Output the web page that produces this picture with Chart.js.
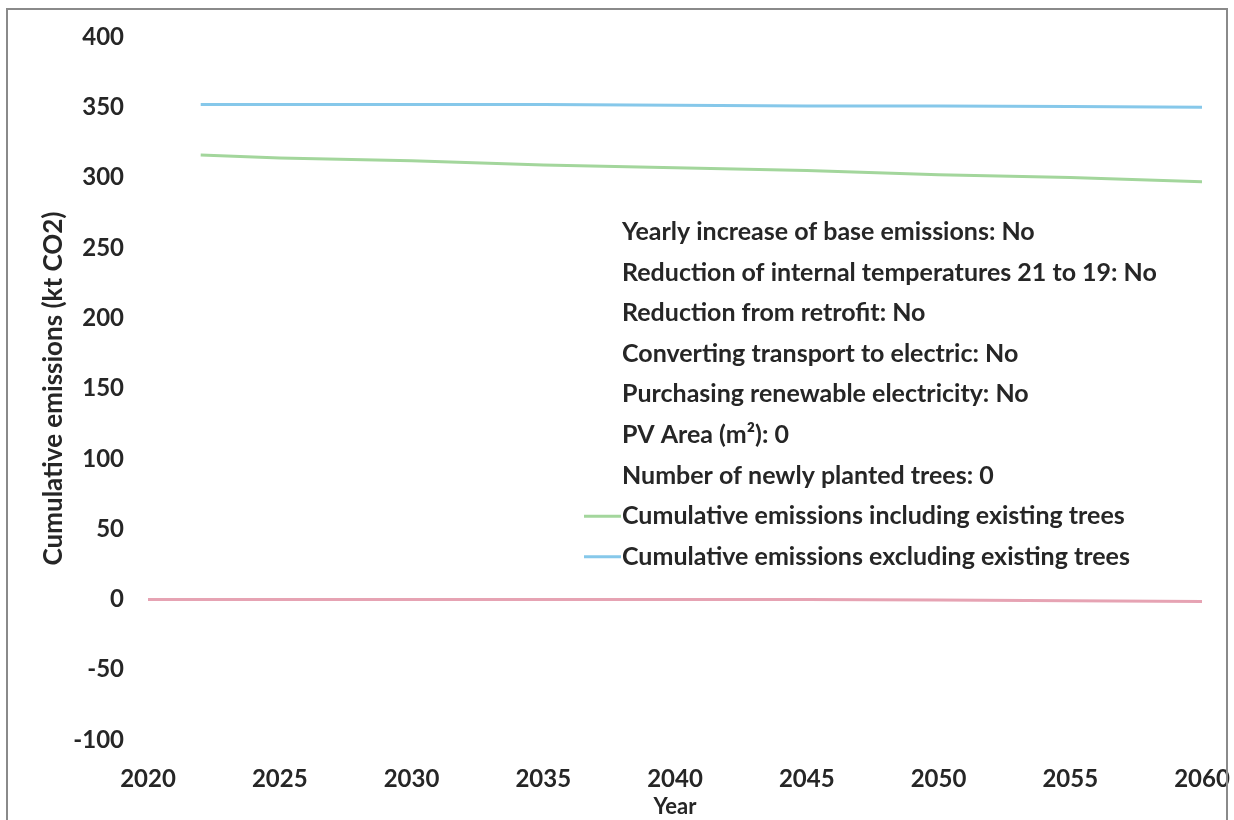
<!DOCTYPE html>
<html>
<head>
<meta charset="utf-8">
<script src="https://cdn.jsdelivr.net/npm/chart.js@4.4.0/dist/chart.umd.min.js"></script>
<style>
  body { margin: 0; background: #fff; overflow: hidden; }
  #wrap { position: relative; width: 1234px; height: 820px; }
  #frame { position: absolute; left: 6px; top: 8px; width: 1222px; height: 830px; border: 2px solid #8a8a8a; box-sizing: border-box; pointer-events: none; }
</style>
</head>
<body>
<div id="wrap">
  <canvas id="myChart" width="1234" height="820"></canvas>
  <div id="frame"></div>
</div>
<script>
  // values (kt CO2)
  const years = [2020, 2022, 2025, 2030, 2035, 2040, 2045, 2050, 2055, 2060];
  const includingTrees = [null, 316, 314, 312, 309, 307, 305, 302, 300, 297];
  const excludingTrees = [null, 352, 352, 352, 352, 351.5, 351, 351, 350.5, 350];
  const newTrees = [0, 0, 0, 0, 0, 0, 0, -0.5, -1, -1.5];

  const scenarioLabels = [
    'Yearly increase of base emissions: No',
    'Reduction of internal temperatures 21 to 19: No',
    'Reduction from retrofit: No',
    'Converting transport to electric: No',
    'Purchasing renewable electricity: No',
    'PV Area (m\u00B2): 0',
    'Number of newly planted trees: 0'
  ];
  const seriesLabels = [
    'Cumulative emissions including existing trees',
    'Cumulative emissions excluding existing trees'
  ];
  const yTicks = [-100, -50, 0, 50, 100, 150, 200, 250, 300, 350, 400];

  const toPoints = vals => years.map((x, i) => ({ x: x, y: vals[i] }));
  const FONT = 'Lato, "Liberation Sans", sans-serif';

  // text-only legend inside the plot, like the Excel one
  const insideLegend = {
    id: 'insideLegend',
    afterDraw(chart) {
      const ctx = chart.ctx;
      ctx.save();
      ctx.font = 'bold 25px ' + FONT;
      ctx.fillStyle = '#262626';
      ctx.textBaseline = 'middle';
      const x0 = 622, y0 = 232, step = 40.6;
      const all = scenarioLabels.concat(seriesLabels);
      all.forEach((t, i) => ctx.fillText(t, x0, y0 + i * step));
      const colors = [chart.data.datasets[0].borderColor, chart.data.datasets[1].borderColor];
      colors.forEach((c, j) => {
        const y = y0 + (scenarioLabels.length + j) * step;
        ctx.strokeStyle = c;
        ctx.lineWidth = 3;
        ctx.beginPath();
        ctx.moveTo(584, y);
        ctx.lineTo(621, y);
        ctx.stroke();
      });
      ctx.restore();
    }
  };

  new Chart(document.getElementById('myChart'), {
    type: 'line',
    data: {
      datasets: [
        { label: seriesLabels[0], data: toPoints(includingTrees), borderColor: '#a3d69c', borderWidth: 3, pointRadius: 0, tension: 0 },
        { label: seriesLabels[1], data: toPoints(excludingTrees), borderColor: '#86c8ea', borderWidth: 3, pointRadius: 0, tension: 0 },
        { label: 'Newly planted trees', data: toPoints(newTrees), borderColor: '#e6a3b3', borderWidth: 3, pointRadius: 0, tension: 0 }
      ]
    },
    options: {
      responsive: false,
      animation: false,
      layout: { padding: { top: 37, right: 32, left: 0, bottom: 0 } },
      plugins: { legend: { display: false }, tooltip: { enabled: false } },
      scales: {
        x: {
          type: 'linear', min: 2020, max: 2060,
          grid: { display: false, drawTicks: false },
          border: { display: false },
          ticks: { stepSize: 5, padding: 25, color: '#262626', font: { family: FONT, size: 24, weight: 'bold' }, callback: v => String(v) },
          title: { display: true, text: 'Year', color: '#262626', padding: { top: 0, bottom: 0 }, font: { family: FONT, size: 22, weight: 'bold' } },
          afterFit(s) { s.height = 80; s.paddingLeft = 0; s.paddingRight = 0; }
        },
        y: {
          min: -100, max: 400,
          grid: { display: false, drawTicks: false },
          border: { display: false },
          afterBuildTicks(s) { s.ticks = yTicks.map(v => ({ value: v })); },
          ticks: { padding: 24, color: '#262626', font: { family: FONT, size: 24, weight: 'bold' } },
          title: { display: true, text: 'Cumulative emissions (kt CO2)', color: '#262626', padding: { top: 38 }, font: { family: FONT, size: 26, weight: 'bold' } },
          afterFit(s) { s.width = 148; s.paddingTop = 0; s.paddingBottom = 0; }
        }
      }
    },
    plugins: [insideLegend]
  });
</script>
</body>
</html>
